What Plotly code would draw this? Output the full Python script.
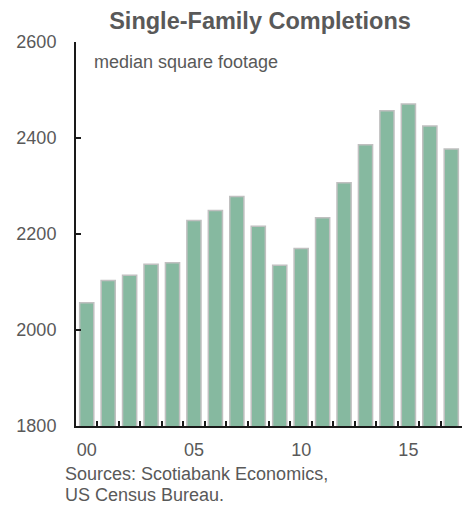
import plotly.graph_objects as go

years = list(range(2000, 2018))
sqft = [2057, 2103, 2114, 2137, 2140, 2228, 2249, 2278, 2216, 2135,
        2170, 2234, 2307, 2386, 2457, 2471, 2425, 2377]
tick_years = [2000, 2005, 2010, 2015]
tick_labels = ["00", "05", "10", "15"]

W, H = 469, 506
L, R, T, B = 76, 7, 42, 80
FONT = "Liberation Sans, Arial, sans-serif"
TXT = "#595959"
AX = "#1a1a1a"

fig = go.Figure()
fig.add_trace(go.Bar(
    x=years, y=sqft,
    marker=dict(color="#86b9a0", line=dict(color="#c0c0c0", width=1.5)),
    width=0.66,
))
# invisible helper trace so the boundary-tick axis is drawn
fig.add_trace(go.Scatter(x=years, y=sqft, xaxis="x2", mode="markers",
                         marker=dict(opacity=0), hoverinfo="skip"))

fig.update_layout(
    width=W, height=H,
    margin=dict(l=L, r=R, t=T, b=B, pad=0),
    paper_bgcolor="white", plot_bgcolor="white",
    showlegend=False,
    font=dict(family=FONT, size=18, color=TXT),
    title=dict(text="<b>Single-Family Completions</b>", x=260 / W, xref="container",
               xanchor="center", y=1 - 21 / H, yanchor="middle",
               font=dict(family=FONT, size=23.5, color=TXT)),
    xaxis=dict(
        range=[1999.5, 2017.5],
        tickvals=tick_years, ticktext=tick_labels,
        ticks="", showgrid=False, zeroline=False,
        showline=True, linecolor=AX, linewidth=2,
        tickfont=dict(family=FONT, size=18, color=TXT),
        ticklabelstandoff=6,
    ),
    xaxis2=dict(
        overlaying="x", side="bottom", anchor="y",
        range=[1999.5, 2017.5],
        tickmode="linear", tick0=1999.5, dtick=1,
        ticks="inside", ticklen=5, tickwidth=1.5, tickcolor=AX,
        showticklabels=False, showgrid=False, zeroline=False, showline=False,
    ),
    yaxis=dict(
        range=[1800, 2600], dtick=200,
        ticks="inside", ticklen=5, tickwidth=2, tickcolor=AX,
        showgrid=False, zeroline=False,
        showline=True, linecolor=AX, linewidth=2,
        tickfont=dict(family=FONT, size=18, color=TXT),
        ticklabelstandoff=14,
    ),
)

fig.add_annotation(text="median square footage", xref="paper", yref="paper",
                   x=(92 - L) / (W - L - R), y=1 - (62 - T) / (H - T - B),
                   xanchor="left", yanchor="middle", showarrow=False,
                   font=dict(family=FONT, size=18, color=TXT))
fig.add_annotation(text="Sources: Scotiabank Economics,", xref="paper", yref="paper",
                   x=(63 - L) / (W - L - R), y=-(474 - (H - B)) / (H - T - B),
                   xanchor="left", yanchor="middle", showarrow=False,
                   font=dict(family=FONT, size=18, color=TXT))
fig.add_annotation(text="US Census Bureau.", xref="paper", yref="paper",
                   x=(63 - L) / (W - L - R), y=-(495 - (H - B)) / (H - T - B),
                   xanchor="left", yanchor="middle", showarrow=False,
                   font=dict(family=FONT, size=18, color=TXT))

fig.write_html("out.html")
